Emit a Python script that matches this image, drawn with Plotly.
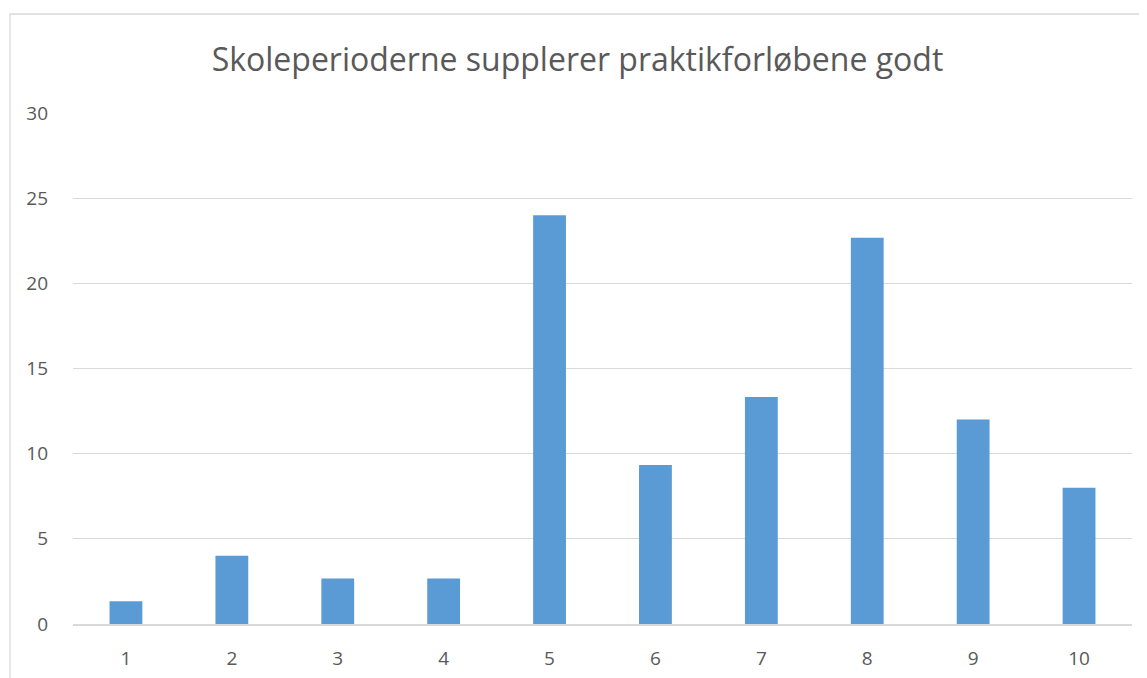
import plotly.graph_objects as go

# survey answers on a 1-10 scale, share of respondents (%)
scores = ["1", "2", "3", "4", "5", "6", "7", "8", "9", "10"]
shares = [1.33, 4.0, 2.67, 2.67, 24.0, 9.33, 13.33, 22.67, 12.0, 8.0]
y_ticks = [0, 5, 10, 15, 20, 25, 30]

# the page puts the figure 8px in from the top-left corner
W, H = 1139, 670
L, R, T, B = 65, 15, 105, 54

fig = go.Figure(
    go.Bar(x=scores, y=shares, marker=dict(color="#5b9bd5", line=dict(width=0)))
)

pw, ph = W - L - R, H - T - B
fig.add_shape(
    type="rect", xref="paper", yref="paper",
    x0=(2 - L) / pw, x1=(W + 20 - L) / pw,
    y0=-(B + 20) / ph, y1=(H - B - 6) / ph,
    line=dict(color="#d9d9d9", width=1.3), layer="below",
)

fig.update_layout(
    width=W, height=H,
    margin=dict(l=L, r=R, t=T, b=B, autoexpand=False),
    paper_bgcolor="white", plot_bgcolor="white",
    font=dict(family="Open Sans, Liberation Sans, sans-serif", color="#595959", size=19),
    title=dict(
        text="Skoleperioderne supplerer praktikforløbene godt",
        x=0.5, xanchor="center", y=1 - 52 / H, yanchor="middle",
        font=dict(size=32, color="#595959"),
    ),
    bargap=0.69,
    showlegend=False,
)
fig.update_xaxes(showgrid=False, showline=True, linecolor="#d9d9d9", linewidth=1.5,
                 ticks="", ticklabelstandoff=16, tickfont=dict(size=19), automargin=False)
fig.update_yaxes(range=[0, 30], tickvals=y_ticks, showgrid=True, gridcolor="#d9d9d9",
                 gridwidth=1, zeroline=False, ticks="", ticklabelstandoff=24,
                 tickfont=dict(size=19), automargin=False)

fig.write_html("out.html")
